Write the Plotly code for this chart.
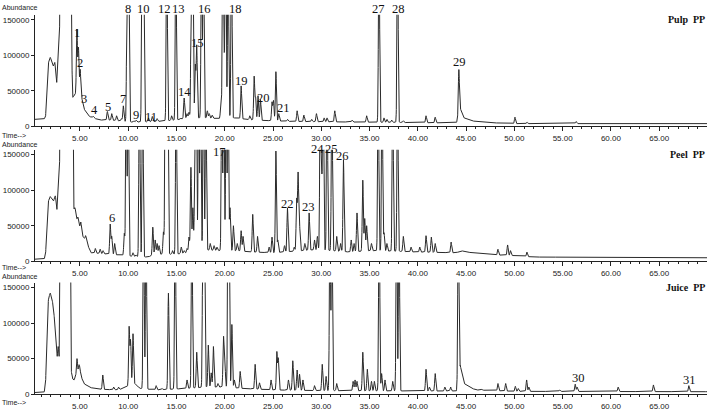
import numpy as np
import plotly.graph_objects as go

# ---------------- data ----------------
# baseline vertices (time min, abundance) per sample
pulp_base_t = [0.35, 1.3, 1.45, 1.6, 1.75, 1.93, 2.1, 2.25, 2.4, 2.5, 2.6, 2.75, 2.9, 3.0, 4.0, 4.1, 4.27, 4.5, 5.0, 5.2, 5.4, 6.0, 7.0, 8.0, 9.0, 10.5, 13, 15, 16, 18, 19.5, 21, 23, 25, 27, 35, 43, 44.0, 44.4, 44.8, 45.5, 47, 50, 70]
pulp_base_a = [10000, 10000, 15000, 60000, 90000, 97000, 92000, 85000, 90000, 80000, 62000, 100000, 140000, 400000, 400000, 120000, 41000, 45000, 45000, 40000, 25000, 14000, 9000, 9000, 8000, 6000, 7000, 9000, 12000, 12000, 11000, 12000, 9000, 8000, 7000, 6000, 5000, 5000, 25000, 12000, 8000, 5500, 4000, 4000]
pulp_peak_t = [4.69, 4.85, 5.03, 5.37, 6.4, 7.85, 8.3, 8.8, 9.3, 9.5, 9.9, 10.05, 10.6, 10.83, 11.45, 11.6, 12.1, 12.5, 13.0, 14.0, 14.5, 14.94, 15.4, 15.8, 16.1, 16.3, 16.55, 16.7, 16.95, 17.1, 17.6, 17.8, 18.2, 18.4, 18.7, 19.0, 19.6, 19.8, 19.95, 20.1, 20.35, 20.7, 21.7, 22.6, 23.05, 23.2, 23.45, 23.7, 24.9, 25.05, 25.3, 25.6, 26.5, 27.5, 28.2, 29.0, 29.5, 30.3, 30.6, 31.4, 33.2, 34.7, 35.98, 36.5, 36.8, 37.3, 37.9, 38.5, 40.85, 41.8, 44.25, 50.06, 51.3, 56.4]
pulp_peak_a = [136000, 110000, 80000, 28000, 14000, 21000, 18000, 15000, 11000, 29000, 300000, 300000, 8000, 9000, 300000, 300000, 12000, 14000, 11000, 300000, 15000, 300000, 12000, 40000, 18000, 20000, 300000, 300000, 85000, 113000, 300000, 300000, 22000, 18000, 16000, 10000, 30000, 300000, 90000, 300000, 300000, 300000, 57000, 15000, 70000, 40000, 43000, 38000, 34000, 36000, 77000, 18000, 10000, 22000, 16000, 10000, 18000, 12000, 12000, 22000, 9000, 15000, 300000, 12000, 10000, 9000, 300000, 8000, 15000, 13000, 80000, 13000, 6000, 7000]

peel_base_t = [0.35, 1.3, 1.45, 1.6, 1.75, 1.93, 2.1, 2.27, 2.45, 2.55, 2.62, 2.8, 2.9, 3.0, 4.2, 4.3, 4.4, 4.6, 5.0, 5.3, 5.7, 6.1, 7.0, 8.0, 9.0, 10.5, 12, 13, 15, 16, 18, 19.5, 21, 23, 25, 27, 29, 31, 33, 35, 38, 40, 44, 44.5, 45, 48, 50, 52, 70]
peel_base_a = [3000, 3000, 10000, 60000, 85000, 91000, 88000, 85000, 92000, 85000, 73000, 110000, 140000, 400000, 400000, 90000, 72000, 62000, 48000, 35000, 28000, 12000, 11000, 10000, 9000, 7000, 6000, 10000, 10000, 12000, 16000, 15000, 15000, 13000, 12000, 14000, 16000, 15000, 13000, 15000, 14000, 13000, 12000, 15000, 13000, 9000, 8000, 6000, 5000]
peel_peak_t = [4.5, 4.8, 5.1, 5.6, 6.6, 7.1, 7.4, 8.14, 8.3, 8.6, 9.6, 9.8, 10.0, 10.5, 10.8, 11.17, 11.5, 12.55, 12.8, 13.0, 13.2, 13.65, 13.85, 13.95, 14.1, 14.6, 14.97, 15.5, 15.8, 16.1, 16.3, 16.5, 16.7, 16.9, 17.05, 17.3, 17.5, 17.8, 18.05, 18.5, 18.9, 19.2, 19.7, 19.9, 20.15, 20.35, 20.55, 20.9, 21.3, 21.7, 21.9, 22.9, 23.4, 24.6, 24.9, 25.3, 25.5, 26.2, 26.5, 27.2, 27.45, 27.6, 27.75, 28.3, 28.74, 29.3, 29.6, 29.9, 30.05, 30.2, 30.6, 31.1, 31.6, 32.0, 32.3, 33.1, 33.4, 33.7, 34.3, 34.5, 34.7, 35.2, 35.9, 36.3, 36.5, 36.8, 37.4, 37.9, 38.5, 39.3, 40.2, 40.85, 41.4, 41.8, 43.45, 48.3, 49.3, 49.6, 51.3]
peel_peak_a = [75000, 62000, 55000, 36000, 18000, 17000, 15000, 52000, 35000, 25000, 39000, 300000, 300000, 12000, 9000, 300000, 300000, 48000, 30000, 25000, 22000, 41000, 300000, 300000, 300000, 15000, 300000, 20000, 15000, 18000, 34000, 132000, 75000, 116000, 300000, 300000, 300000, 300000, 300000, 25000, 22000, 20000, 300000, 300000, 300000, 300000, 75000, 50000, 25000, 43000, 35000, 66000, 35000, 20000, 34000, 155000, 30000, 22000, 75000, 20000, 86000, 123000, 50000, 25000, 68000, 30000, 35000, 300000, 109000, 300000, 300000, 300000, 35000, 25000, 143000, 30000, 25000, 68000, 114000, 60000, 50000, 25000, 300000, 300000, 40000, 25000, 300000, 300000, 35000, 20000, 20000, 36000, 34000, 25000, 27000, 17000, 23000, 15000, 13000]

juice_base_t = [0.35, 1.3, 1.45, 1.6, 1.75, 1.93, 2.1, 2.27, 2.45, 2.55, 2.65, 2.85, 2.93, 3.0, 3.95, 4.05, 4.2, 4.4, 4.7, 5.0, 5.4, 6.0, 7.0, 9.0, 10.7, 11.2, 13, 16, 18, 20, 22, 25, 30, 40, 44.0, 44.4, 44.8, 45.5, 46, 50, 70]
juice_base_a = [2400, 2400, 15000, 100000, 135000, 142000, 135000, 121000, 90000, 69000, 50000, 50000, 150000, 400000, 400000, 40000, 22000, 20000, 30000, 30000, 15000, 9500, 7000, 6000, 15000, 8000, 6000, 8000, 10000, 10000, 8000, 6000, 5000, 4500, 4500, 40000, 15000, 9000, 6000, 4000, 3500]
juice_peak_t = [2.75, 4.7, 4.9, 5.0, 7.37, 8.5, 9.0, 9.5, 10.1, 10.25, 10.5, 11.6, 11.85, 12.9, 13.5, 14.17, 14.87, 16.1, 16.6, 17.1, 17.75, 17.9, 18.3, 18.6, 18.83, 19.3, 19.87, 20.0, 20.35, 20.45, 20.74, 21.0, 21.6, 23.15, 23.6, 24.8, 25.4, 25.55, 26.6, 27.05, 27.5, 27.75, 28.1, 29.3, 30.1, 30.5, 30.9, 31.1, 31.6, 33.3, 33.5, 33.7, 34.3, 34.77, 35.2, 35.5, 36.0, 36.25, 36.6, 37.4, 37.8, 38.05, 40.85, 41.2, 41.8, 42.8, 43.4, 44.2, 46.6, 48.3, 49.1, 50.1, 50.4, 51.27, 51.5, 54.7, 56.3, 56.5, 60.75, 64.4, 68.07]
juice_peak_a = [67000, 50000, 40000, 36000, 27000, 10000, 10000, 9000, 94000, 75000, 85000, 300000, 300000, 12000, 8000, 142000, 300000, 20000, 300000, 59000, 300000, 300000, 69000, 30000, 67000, 15000, 78000, 59000, 300000, 300000, 98000, 20000, 32000, 42000, 16000, 20000, 59000, 50000, 20000, 47000, 34000, 28000, 20000, 12000, 42000, 25000, 300000, 300000, 15000, 18000, 20000, 18000, 59000, 35000, 18000, 18000, 300000, 29000, 20000, 18000, 300000, 300000, 35000, 10000, 29000, 10000, 10000, 300000, 7000, 15000, 15000, 11000, 8000, 20000, 10000, 6000, 14000, 10000, 10000, 13000, 12000]

# peak number labels: (text, time, abundance level)
pulp_lbl = ["1", "2", "3", "4", "5", "7", "8", "9", "10", "11", "12", "13", "14", "15", "16", "18", "19", "20", "21", "27", "28", "29"]
pulp_lbl_t = [4.75, 5.03, 5.45, 6.48, 7.86, 9.51, 10.03, 10.83, 11.58, 12.35, 13.76, 15.2, 15.83, 17.18, 17.87, 21.08, 21.7, 24.0, 26.08, 35.9, 37.98, 44.3]
pulp_lbl_a = [131500, 89900, 37900, 22600, 27300, 38900, 164900, 16700, 164900, 13500, 164900, 164900, 49000, 117600, 164900, 164900, 64300, 39800, 26000, 164900, 164900, 90700]
peel_lbl = ["6", "17", "22", "23", "24", "25", "26"]
peel_lbl_t = [8.3, 19.45, 26.5, 28.67, 29.63, 31.08, 32.22]
peel_lbl_a = [60400, 153200, 80500, 76400, 158500, 158500, 148700]
juice_lbl = ["30", "31"]
juice_lbl_t = [56.62, 68.1]
juice_lbl_a = [23100, 19800]

titles = ["Pulp  PP", "Peel  PP", "Juice  PP"]
y_ticks = [0, 50000, 100000, 150000]

# ---------------- build figure ----------------
W, H = 714, 415
SIGMA = 0.055
t = np.arange(0.35, 69.96, 0.01)


def signal(bt, ba, pt, pa):
    base = np.interp(t, bt, ba)
    y = base.copy()
    for tc, ap in zip(pt, pa):
        h = ap - np.interp(tc, bt, ba)
        if h > 0:
            y += h * np.exp(-0.5 * ((t - tc) / SIGMA) ** 2)
    return y


panels = [
    (pulp_base_t, pulp_base_a, pulp_peak_t, pulp_peak_a, pulp_lbl, pulp_lbl_t, pulp_lbl_a),
    (peel_base_t, peel_base_a, peel_peak_t, peel_peak_a, peel_lbl, peel_lbl_t, peel_lbl_a),
    (juice_base_t, juice_base_a, juice_peak_t, juice_peak_a, juice_lbl, juice_lbl_t, juice_lbl_a),
]

# pixel position of the zero line of each panel, and px per 150000
zero_px = [128, 264.5, 399]
abund_px = [8, 146.5, 279.5]
time_px = [137.5, 271, 407]
PX150 = 108.0
YMAX = 157000
x0px, x1px = 35, 707

fig = go.Figure()
annotations = []
tickfont = dict(family="Liberation Sans, Arial", size=8, color="#222")
smallfont = dict(family="Liberation Sans, Arial", size=7, color="#222")
for i, (bt, ba, pt, pa, lb, lt, la) in enumerate(panels):
    n = "" if i == 0 else str(i + 1)
    bot = zero_px[i]
    top = bot - PX150 * YMAX / 150000.0
    fig.add_trace(go.Scatter(x=t, y=signal(bt, ba, pt, pa), mode="lines",
                             line=dict(color="#2a2a2a", width=1),
                             xaxis="x" + n, yaxis="y" + n, showlegend=False,
                             hoverinfo="skip"))
    fig.layout["xaxis" + n] = dict(
        domain=[x0px / W, x1px / W], range=[0.35, 69.95], anchor="y" + n,
        tick0=0, dtick=5, tickformat=".2f", ticks="outside", ticklen=4,
        tickcolor="#222", showline=True, linecolor="#222", linewidth=1,
        showgrid=False, zeroline=False, tickfont=tickfont,
        minor=dict(dtick=1, ticks="outside", ticklen=2, tickcolor="#222"),
    )
    fig.layout["yaxis" + n] = dict(
        domain=[1 - bot / H, 1 - top / H], range=[0, YMAX], anchor="x" + n,
        tickvals=y_ticks, ticktext=[str(v) for v in y_ticks],
        ticks="outside", ticklen=3, tickcolor="#222", showline=True,
        linecolor="#222", linewidth=1, showgrid=False, zeroline=False,
        tickfont=tickfont,
    )
    for txt, tx, ty in zip(lb, lt, la):
        ypx = bot - PX150 * ty / 150000.0
        annotations.append(dict(x=tx, y=1 - ypx / H, xref="x" + n, yref="paper",
                                text=txt, showarrow=False,
                                font=dict(family="Liberation Serif, Times New Roman", size=12.5, color="#111"),
                                xanchor="center", yanchor="middle"))
    annotations.append(dict(x=x1px / W, y=1 - (top + 5) / H, xref="paper", yref="paper",
                            text="<b>" + titles[i] + "</b>", showarrow=False,
                            font=dict(family="Liberation Serif, Times New Roman", size=10, color="#111"),
                            xanchor="right", yanchor="middle"))
    annotations.append(dict(x=0, y=1 - abund_px[i] / H, xref="paper", yref="paper",
                            text="Abundance", showarrow=False, font=smallfont,
                            xanchor="left", yanchor="middle"))
    annotations.append(dict(x=0, y=1 - time_px[i] / H, xref="paper", yref="paper",
                            text="Time-->", showarrow=False, font=smallfont,
                            xanchor="left", yanchor="middle"))

fig.update_layout(width=W, height=H, margin=dict(l=0, r=0, t=0, b=0),
                  paper_bgcolor="white", plot_bgcolor="white",
                  annotations=annotations)
fig.write_html("out.html")
